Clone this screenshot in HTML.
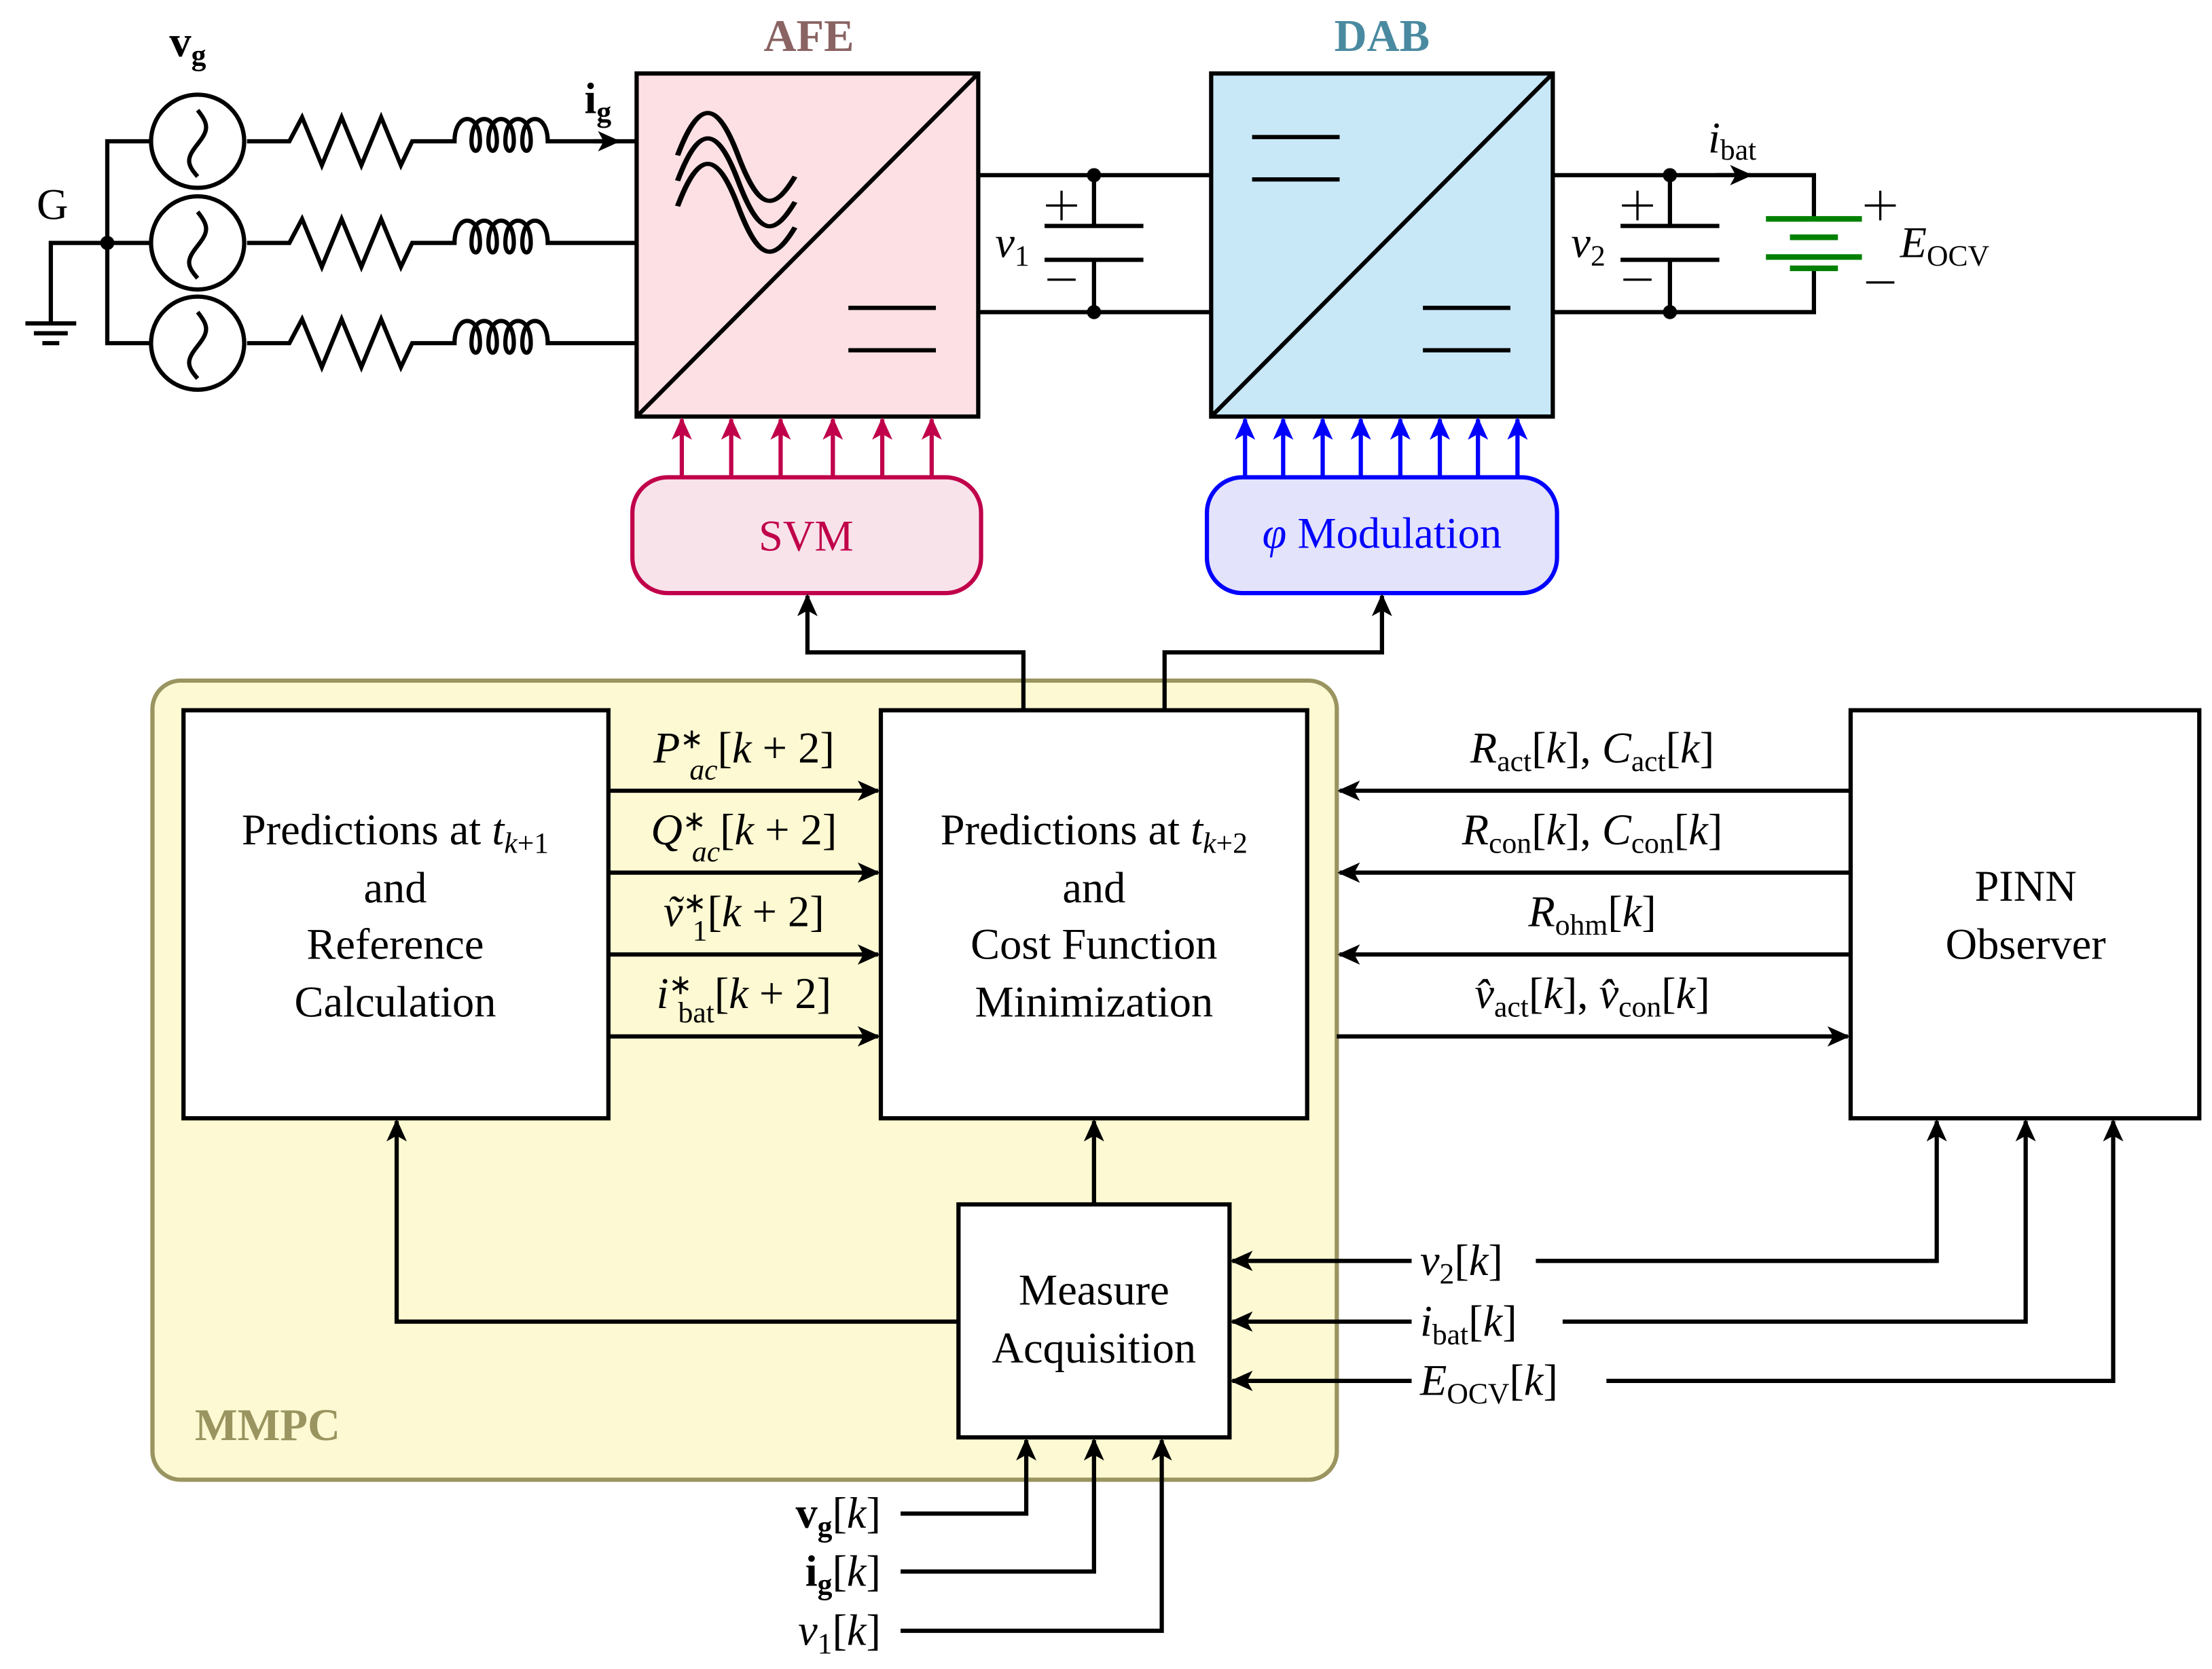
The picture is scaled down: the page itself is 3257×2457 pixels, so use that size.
<!DOCTYPE html>
<html><head><meta charset="utf-8"><style>
html,body{margin:0;padding:0;background:#fff}
svg{display:block}
text{font-family:"Liberation Serif",serif;fill:#000}
.t{font-size:31px}
.i{font-style:italic}
</style></head><body>
<svg width="3257" height="2457" viewBox="0 0 1567 1182" xmlns="http://www.w3.org/2000/svg">
<defs>
<marker id="ak" viewBox="0 0 10 10" refX="9" refY="5" markerWidth="16" markerHeight="16" orient="auto" markerUnits="userSpaceOnUse"><path d="M0,0.5L10,5L0,9.5L2.5,5z" fill="#000"/></marker>
<marker id="ar" viewBox="0 0 10 10" refX="9" refY="5" markerWidth="16" markerHeight="16" orient="auto" markerUnits="userSpaceOnUse"><path d="M0,0.5L10,5L0,9.5L2.5,5z" fill="#c0004a"/></marker>
<marker id="ab" viewBox="0 0 10 10" refX="9" refY="5" markerWidth="16" markerHeight="16" orient="auto" markerUnits="userSpaceOnUse"><path d="M0,0.5L10,5L0,9.5L2.5,5z" fill="#0000ff"/></marker>
<g id="src"><circle r="33" fill="#fff" stroke="#000" stroke-width="3"/><path d="M0,-22 C8,-12 8,-8 0,2 C-8,12 -8,16 0,25" fill="none" stroke="#000" stroke-width="3"/></g>
<path id="rl" d="M175,0H205L214,-17L228,17L242,-17L256,17L270,-17L284,17L292,0H322 c0,-21 18,-21 18,0 c0,9 -6,9 -6,0 c0,-21 18,-21 18,0 c0,9 -6,9 -6,0 c0,-21 18,-21 18,0 c0,9 -6,9 -6,0 c0,-21 18,-21 18,0 c0,9 -6,9 -6,0 c0,-21 18,-21 18,0 H451" fill="none" stroke="#000" stroke-width="3"/>
</defs>

<rect x="108" y="482" width="839" height="566" rx="20" fill="#fdf9d2" stroke="#9a9460" stroke-width="3"/>
<text x="138" y="1020" font-size="32" font-weight="bold" style="fill:#9a9460">MMPC</text>

<g stroke="#000" stroke-width="3" fill="none">
<path d="M107,100H76V243H107M76,172H107M76,172H36V228"/>
<path d="M18,229H54M24,236H48M30,243H42"/>
</g>
<circle cx="76" cy="172" r="5"/>
<text x="26" y="155" class="t">G</text>
<use href="#src" x="140" y="100"/><use href="#src" x="140" y="172"/><use href="#src" x="140" y="243"/>
<use href="#rl" y="100"/><use href="#rl" y="172"/><use href="#rl" y="243"/>
<path d="M420,100H438" stroke="#000" stroke-width="3" marker-end="url(#ak)"/>
<text x="120" y="40" class="t" font-weight="bold">v<tspan font-size="21" dy="6">g</tspan></text>
<text x="414" y="80" class="t" font-weight="bold">i<tspan font-size="21" dy="6">g</tspan></text>

<text x="573" y="36" text-anchor="middle" font-size="32" font-weight="bold" style="fill:#8a6363">AFE</text>
<rect x="451" y="52" width="242" height="243" fill="#fde0e3" stroke="#000" stroke-width="3"/>
<path d="M451,295L693,52" stroke="#000" stroke-width="3"/>
<g fill="none" stroke="#000" stroke-width="3">
<path transform="translate(480,0) scale(1.26,1) translate(-480,0)" d="M480,110 C492,70 502,70 514,110 S534,150 546,125 M480,128 C492,88 502,88 514,128 S534,168 546,143 M480,146 C492,106 502,106 514,146 S534,186 546,161"/>
<path d="M601,218H663M601,248H663"/>
</g>
<g stroke="#000" stroke-width="3" fill="none">
<path d="M693,124H858M693,221H858M775,124V160M775,184V221M740,160H810M740,184H810"/>
<path d="M1100,124H1285V155M1100,221H1285V190M1183,124V160M1183,184V221M1148,160H1218M1148,184H1218"/>
<path d="M1216,124H1240" marker-end="url(#ak)"/>
</g>
<g stroke="#000" stroke-width="1.6" fill="none">
<path d="M752,135V156M741,145.5H763M742,198H762M1160,135V156M1149,145.5H1171M1150,198H1170M1332,135V156M1321,145.5H1343M1322,200H1342"/>
</g>
<g stroke="#008000" stroke-width="4"><path d="M1251,155H1319M1268,168H1302M1251,182H1319M1268,190H1302"/></g>
<circle cx="775" cy="124" r="5"/><circle cx="775" cy="221" r="5"/><circle cx="1183" cy="124" r="5"/><circle cx="1183" cy="221" r="5"/>
<text x="705" y="182" class="t i">v<tspan font-size="21" dy="6" font-style="normal">1</tspan></text>
<text x="1113" y="182" class="t i">v<tspan font-size="21" dy="6" font-style="normal">2</tspan></text>
<text x="1210" y="108" class="t i">i<tspan font-size="21" dy="5" font-style="normal">bat</tspan></text>
<text x="1346" y="182" class="t i">E<tspan font-size="21" dy="6" font-style="normal">OCV</tspan></text>

<text x="979" y="36" text-anchor="middle" font-size="32" font-weight="bold" style="fill:#4a8aa0">DAB</text>
<rect x="858" y="52" width="242" height="243" fill="#c8e8f8" stroke="#000" stroke-width="3"/>
<path d="M858,295L1100,52M887,97H949M887,127H949M1008,218H1070M1008,248H1070" stroke="#000" stroke-width="3"/>

<g stroke="#c0004a" stroke-width="3">
<path d="M483,338V297" marker-end="url(#ar)"/><path d="M518,338V297" marker-end="url(#ar)"/><path d="M553,338V297" marker-end="url(#ar)"/><path d="M590,338V297" marker-end="url(#ar)"/><path d="M625,338V297" marker-end="url(#ar)"/><path d="M660,338V297" marker-end="url(#ar)"/>
</g>
<rect x="448" y="338" width="247" height="82" rx="25" fill="#f8e3ea" stroke="#c0004a" stroke-width="3"/>
<text x="571" y="390" text-anchor="middle" class="t" style="fill:#c0004a">SVM</text>
<g stroke="#0000ff" stroke-width="3">
<path d="M882,338V297" marker-end="url(#ab)"/><path d="M909,338V297" marker-end="url(#ab)"/><path d="M937,338V297" marker-end="url(#ab)"/><path d="M964,338V297" marker-end="url(#ab)"/><path d="M992,338V297" marker-end="url(#ab)"/><path d="M1020,338V297" marker-end="url(#ab)"/><path d="M1047,338V297" marker-end="url(#ab)"/><path d="M1075,338V297" marker-end="url(#ab)"/>
</g>
<rect x="855" y="338" width="248" height="82" rx="25" fill="#e3e3fb" stroke="#0000ff" stroke-width="3"/>
<text x="979" y="388" text-anchor="middle" class="t" style="fill:#0000ff"><tspan font-style="italic">φ</tspan> Modulation</text>

<g stroke="#000" stroke-width="3" fill="none">
<path d="M725,503V462H572V422" marker-end="url(#ak)"/>
<path d="M825,503V462H979V422" marker-end="url(#ak)"/>
<path d="M431,560H622" marker-end="url(#ak)"/><path d="M431,618H622" marker-end="url(#ak)"/><path d="M431,676H622" marker-end="url(#ak)"/><path d="M431,734H622" marker-end="url(#ak)"/>
<path d="M1311,560H949" marker-end="url(#ak)"/><path d="M1311,618H949" marker-end="url(#ak)"/><path d="M1311,676H949" marker-end="url(#ak)"/><path d="M947,734H1309" marker-end="url(#ak)"/>
<path d="M775,853V794" marker-end="url(#ak)"/>
<path d="M679,936H281V794" marker-end="url(#ak)"/>
<path d="M1000,893H873" marker-end="url(#ak)"/><path d="M1088,893H1372V794" marker-end="url(#ak)"/>
<path d="M1000,936H873" marker-end="url(#ak)"/><path d="M1107,936H1435V794" marker-end="url(#ak)"/>
<path d="M1000,978H873" marker-end="url(#ak)"/><path d="M1138,978H1497V794" marker-end="url(#ak)"/>
<path d="M638,1072H727V1020" marker-end="url(#ak)"/>
<path d="M638,1113H775V1020" marker-end="url(#ak)"/>
<path d="M638,1155H823V1020" marker-end="url(#ak)"/>
</g>

<rect x="130" y="503" width="301" height="289" fill="#fff" stroke="#000" stroke-width="3"/>
<rect x="624" y="503" width="302" height="289" fill="#fff" stroke="#000" stroke-width="3"/>
<rect x="1311" y="503" width="247" height="289" fill="#fff" stroke="#000" stroke-width="3"/>
<rect x="679" y="853" width="192" height="165" fill="#fff" stroke="#000" stroke-width="3"/>
<g text-anchor="middle">
<text x="280" y="598" class="t">Predictions at <tspan font-style="italic">t</tspan><tspan font-size="21" dy="6" font-style="italic">k</tspan><tspan font-size="21">+1</tspan></text>
<text x="280" y="639" class="t">and</text><text x="280" y="679" class="t">Reference</text><text x="280" y="720" class="t">Calculation</text>
<text x="775" y="598" class="t">Predictions at <tspan font-style="italic">t</tspan><tspan font-size="21" dy="6" font-style="italic">k</tspan><tspan font-size="21">+2</tspan></text>
<text x="775" y="639" class="t">and</text><text x="775" y="679" class="t">Cost Function</text><text x="775" y="720" class="t">Minimization</text>
<text x="1435" y="638" class="t">PINN</text><text x="1435" y="679" class="t">Observer</text>
<text x="775" y="924" class="t">Measure</text><text x="775" y="965" class="t">Acquisition</text>
</g>
<g>
<text x="527" y="540" text-anchor="middle" class="t"><tspan font-style="italic">P</tspan><tspan font-size="20" dy="-10">∗</tspan><tspan font-size="21" dy="22" font-style="italic" dx="-10">ac</tspan><tspan dy="-12">[</tspan><tspan font-style="italic">k</tspan> + 2]</text>
<text x="527" y="598" text-anchor="middle" class="t"><tspan font-style="italic">Q</tspan><tspan font-size="20" dy="-10">∗</tspan><tspan font-size="21" dy="22" font-style="italic" dx="-10">ac</tspan><tspan dy="-12">[</tspan><tspan font-style="italic">k</tspan> + 2]</text>
<text x="527" y="656" text-anchor="middle" class="t"><tspan font-style="italic">ṽ</tspan><tspan font-size="20" dy="-10">∗</tspan><tspan font-size="21" dy="20" dx="-10">1</tspan><tspan dy="-10">[</tspan><tspan font-style="italic">k</tspan> + 2]</text>
<text x="527" y="714" text-anchor="middle" class="t"><tspan font-style="italic">i</tspan><tspan font-size="20" dy="-10">∗</tspan><tspan font-size="21" dy="20" dx="-10">bat</tspan><tspan dy="-10">[</tspan><tspan font-style="italic">k</tspan> + 2]</text>
<text x="1128" y="540" text-anchor="middle" class="t"><tspan font-style="italic">R</tspan><tspan font-size="21" dy="6">act</tspan><tspan dy="-6">[</tspan><tspan font-style="italic">k</tspan>], <tspan font-style="italic">C</tspan><tspan font-size="21" dy="6">act</tspan><tspan dy="-6">[</tspan><tspan font-style="italic">k</tspan>]</text>
<text x="1128" y="598" text-anchor="middle" class="t"><tspan font-style="italic">R</tspan><tspan font-size="21" dy="6">con</tspan><tspan dy="-6">[</tspan><tspan font-style="italic">k</tspan>], <tspan font-style="italic">C</tspan><tspan font-size="21" dy="6">con</tspan><tspan dy="-6">[</tspan><tspan font-style="italic">k</tspan>]</text>
<text x="1128" y="656" text-anchor="middle" class="t"><tspan font-style="italic">R</tspan><tspan font-size="21" dy="6">ohm</tspan><tspan dy="-6">[</tspan><tspan font-style="italic">k</tspan>]</text>
<text x="1128" y="714" text-anchor="middle" class="t"><tspan font-style="italic">v̂</tspan><tspan font-size="21" dy="6">act</tspan><tspan dy="-6">[</tspan><tspan font-style="italic">k</tspan>], <tspan font-style="italic">v̂</tspan><tspan font-size="21" dy="6">con</tspan><tspan dy="-6">[</tspan><tspan font-style="italic">k</tspan>]</text>
<text x="1006" y="903" class="t"><tspan font-style="italic">v</tspan><tspan font-size="21" dy="6">2</tspan><tspan dy="-6">[</tspan><tspan font-style="italic">k</tspan>]</text>
<text x="1006" y="946" class="t"><tspan font-style="italic">i</tspan><tspan font-size="21" dy="6">bat</tspan><tspan dy="-6">[</tspan><tspan font-style="italic">k</tspan>]</text>
<text x="1006" y="988" class="t"><tspan font-style="italic">E</tspan><tspan font-size="21" dy="6">OCV</tspan><tspan dy="-6">[</tspan><tspan font-style="italic">k</tspan>]</text>
<text x="624" y="1082" text-anchor="end" class="t"><tspan font-weight="bold">v</tspan><tspan font-size="21" dy="6" font-weight="bold">g</tspan><tspan dy="-6">[</tspan><tspan font-style="italic">k</tspan>]</text>
<text x="624" y="1123" text-anchor="end" class="t"><tspan font-weight="bold">i</tspan><tspan font-size="21" dy="6" font-weight="bold">g</tspan><tspan dy="-6">[</tspan><tspan font-style="italic">k</tspan>]</text>
<text x="624" y="1165" text-anchor="end" class="t"><tspan font-style="italic">v</tspan><tspan font-size="21" dy="6">1</tspan><tspan dy="-6">[</tspan><tspan font-style="italic">k</tspan>]</text>
</g>
</svg>
</body></html>
